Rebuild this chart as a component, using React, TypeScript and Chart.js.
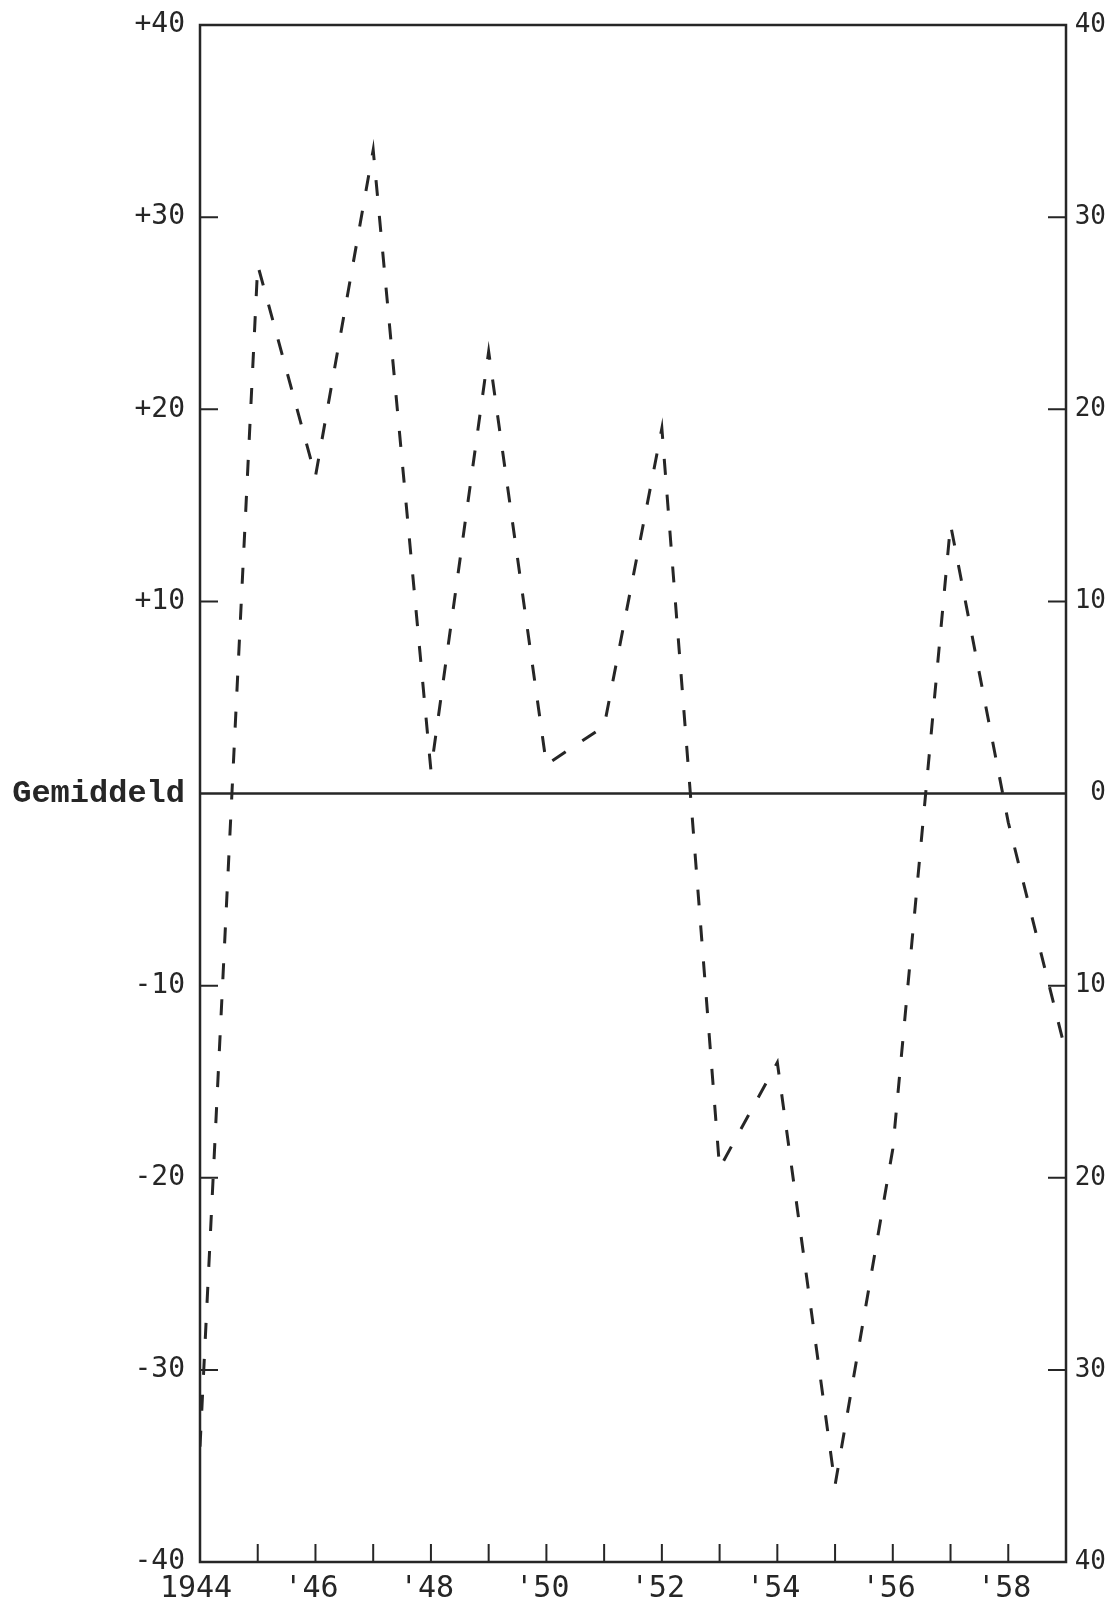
import React, { useEffect, useRef } from 'react';
import { Chart, registerables } from 'chart.js';

Chart.register(...registerables);

// Years along the bottom axis
const years = [1944, 1945, 1946, 1947, 1948, 1949, 1950, 1951, 1952, 1953, 1954, 1955, 1956, 1957, 1958, 1959];
// Deviation from the average ("Gemiddeld")
const deviations = [-34, 27.5, 16.5, 33.5, 1.2, 23, 1.5, 3.5, 19, -19.5, -14, -36, -18.5, 14, -1.5, -13.5];
// Axis ranges / ticks
const yMin = -40;
const yMax = 40;
const yStep = 10;
const xMin = 1944;
const xMax = 1959;
const zeroLabel = 'Gemiddeld';

const INK = '#262626';

const framePlugin = {
  id: 'frameAndTicks',
  afterDatasetsDraw(chart: any) {
    const { ctx, chartArea, scales } = chart;
    const { left, right, top, bottom } = chartArea;
    const yL = scales.y;
    const yR = scales.y2;
    const x = scales.x;
    const tickLen = 18;
    ctx.save();
    ctx.strokeStyle = INK;
    ctx.lineCap = 'butt';
    // frame
    ctx.lineWidth = 2.5;
    ctx.strokeRect(left, top, right - left, bottom - top);
    // zero line
    const y0 = yL.getPixelForValue(0);
    ctx.lineWidth = 2.5;
    ctx.beginPath();
    ctx.moveTo(left, y0);
    ctx.lineTo(right, y0);
    ctx.stroke();
    // inward ticks
    ctx.lineWidth = 2;
    ctx.beginPath();
    yL.ticks.forEach((t: any) => {
      if (t.value === yMin || t.value === yMax || t.value === 0) return;
      const py = yL.getPixelForValue(t.value);
      ctx.moveTo(left, py);
      ctx.lineTo(left + tickLen, py);
    });
    yR.ticks.forEach((t: any) => {
      if (t.value === yMin || t.value === yMax || t.value === 0) return;
      const py = yR.getPixelForValue(t.value);
      ctx.moveTo(right, py);
      ctx.lineTo(right - tickLen, py);
    });
    x.ticks.forEach((t: any) => {
      if (t.value === xMin || t.value === xMax) return;
      const px = x.getPixelForValue(t.value);
      ctx.moveTo(px, bottom);
      ctx.lineTo(px, bottom - tickLen);
    });
    ctx.stroke();
    ctx.restore();
  },
};

export default function App() {
  const canvasRef = useRef<HTMLCanvasElement | null>(null);

  useEffect(() => {
    const canvas = canvasRef.current;
    if (!canvas) return;
    const points = years.map((yr, i) => ({ x: yr, y: deviations[i] }));
    const numFont = { family: '"DejaVu Sans Mono", monospace', size: 28, weight: 'normal' as const };
    const chart = new Chart(canvas, {
      type: 'line',
      data: {
        datasets: [
          {
            label: 'Afwijking',
            data: points,
            borderColor: INK,
            borderWidth: 3,
            borderDash: [16, 20],
            pointRadius: 0,
            tension: 0,
            fill: false,
            yAxisID: 'y',
            xAxisID: 'x',
          },
        ],
      },
      options: {
        animation: false,
        responsive: false,
        devicePixelRatio: 1,
        layout: { padding: { top: 25, right: 8, bottom: 0, left: 0 } },
        plugins: {
          legend: { display: false },
          tooltip: { enabled: false },
        },
        scales: {
          x: {
            type: 'linear',
            position: 'bottom',
            min: xMin,
            max: xMax,
            grid: { display: false, drawTicks: false },
            border: { display: false },
            afterFit: (s: any) => { s.height = 42; s.paddingLeft = 0; s.paddingRight = 0; },
            ticks: {
              stepSize: 1,
              autoSkip: false,
              maxRotation: 0,
              padding: 9,
              color: INK,
              font: { family: '"DejaVu Sans Mono", monospace', size: 30 },
              labelOffset: -4,
              callback: (v: any) => {
                const n = Number(v);
                if (n === xMin) return String(n);
                if (n % 2 === 0 && n < xMax) return "'" + String(n).slice(2);
                return '';
              },
            },
          },
          y: {
            type: 'linear',
            position: 'left',
            min: yMin,
            max: yMax,
            grid: { display: false, drawTicks: false },
            border: { display: false },
            afterFit: (s: any) => { s.width = 200; s.paddingTop = 0; s.paddingBottom = 0; },
            ticks: {
              stepSize: yStep,
              padding: 15,
              color: INK,
              font: (c: any) =>
                c.tick && c.tick.value === 0
                  ? { family: '"Liberation Mono", monospace', size: 32, weight: 'bold' }
                  : numFont,
              callback: (v: any) => {
                const n = Number(v);
                if (n === 0) return zeroLabel;
                return n > 0 ? '+' + n : String(n);
              },
            },
          },
          y2: {
            type: 'linear',
            position: 'right',
            display: true,
            min: yMin,
            max: yMax,
            grid: { display: false, drawTicks: false },
            border: { display: false },
            afterFit: (s: any) => { s.width = 40; s.paddingTop = 0; s.paddingBottom = 0; },
            ticks: {
              stepSize: yStep,
              padding: 6,
              crossAlign: 'far',
              color: INK,
              font: { family: '"DejaVu Sans Mono", monospace', size: 26 },
              callback: (v: any) => String(Math.abs(Number(v))),
            },
          },
        },
      },
      plugins: [framePlugin],
    });
    return () => chart.destroy();
  }, []);

  return (
    <div style={{ position: 'absolute', left: 0, top: 0, width: 1114, height: 1604, background: '#fff' }}>
      <canvas ref={canvasRef} width={1114} height={1604} style={{ display: 'block' }} />
    </div>
  );
}
